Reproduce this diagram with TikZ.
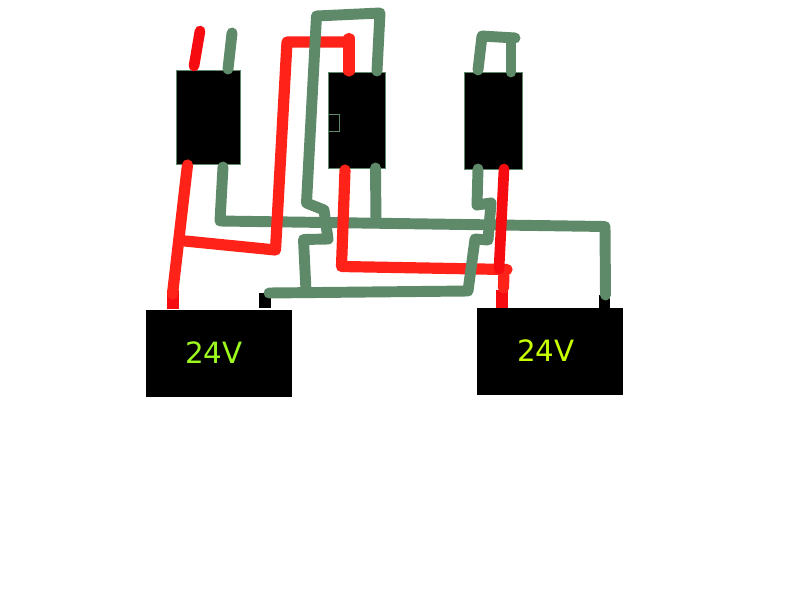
\documentclass[tikz,border=0pt]{standalone}
\usepackage{fontspec}
\setmainfont{DejaVu Sans}
\definecolor{wgreen}{HTML}{5F8A69}
\definecolor{wred}{HTML}{FF2218}
\definecolor{pred}{HTML}{F60C10}
\definecolor{limeA}{HTML}{9CFA1E}
\definecolor{limeB}{HTML}{C8FF00}
\tikzset{
  x=0.75pt,y=-0.75pt,
  relay/.style={draw=wgreen,line width=0.6pt,fill=black,inner sep=0pt,outer sep=0pt},
  battery/.style={fill=black,inner sep=0pt,outer sep=0pt,minimum width=109.5pt,minimum height=65.25pt},
  volts/.style={inner sep=0pt,outer sep=0pt,font=\fontsize{22}{26}\selectfont},
  terminal/.style={inner sep=0pt,outer sep=0pt,minimum width=9pt},
  gwire/.style={draw=wgreen,line width=8.2pt,line cap=round,line join=round},
  rwire/.style={draw=wred,line width=8.4pt,line cap=round,line join=round},
  pwire/.style={draw=pred,line width=8pt,line cap=round,line join=round},
}
\begin{document}
\begin{tikzpicture}
\useasboundingbox (0,0) rectangle (800,600);
\fill[white] (0,0) rectangle (800,600);
% relays
\node[relay,minimum width=47.7pt,minimum height=70.5pt] (relayA) at (208.5,117) {};
\node[relay,minimum width=42.6pt,minimum height=72pt] (relayB) at (357,120) {};
\node[relay,minimum width=43.6pt,minimum height=72.9pt] (relayC) at (493.4,121) {};
\node[draw=wgreen,line width=0.5pt,fill=black,inner sep=0pt,minimum width=8pt,minimum height=12.7pt] (tab) at (334,123) {};
% batteries
\node[battery] (batA) at (219,353.5) {};
\node[battery] (batB) at (550,351.5) {};
\node[volts,text=limeA] (voltA) at (214,353) {24V};
\node[volts,text=limeB] (voltB) at (546,351) {24V};
% terminals
\node[terminal,fill=pred,minimum height=14.25pt] (posA) at (173,299.5) {};
\node[terminal,fill=black,minimum height=11.25pt] (negA) at (265,300.5) {};
\node[terminal,fill=pred,minimum height=13.5pt] (posB) at (502.3,299) {};
\node[terminal,fill=black,minimum height=9.75pt,minimum width=8.25pt] (negB) at (604.5,301.5) {};
% green wires
\draw[gwire] (232,33) -- (228,69);
\draw[gwire] (223,167) -- (220,221) -- (605,226.5) -- (605.5,295);
\draw[gwire] (375.5,168) -- (376,221);
\draw[gwire] (478,70) -- (482,36) -- (515,38);
\draw[gwire] (511,72) -- (511,38);
% red wires under the green top loop
\draw[rwire] (349,71) -- (349,38.5);
\draw[rwire] (349,42) -- (287,42) -- (275.5,250) -- (185,241);
% green upper loop
\draw[gwire] (377,71) -- (380,13) -- (316.5,16) -- (306.5,203) -- (324,210) -- (328,239) -- (303.5,239.5) -- (306,291);
% red wires
\draw[rwire] (187.5,165) -- (172.5,294);
\draw[rwire] (345,170) -- (341.5,266.5) -- (507,269.5);
\draw[rwire] (504,270) -- (503.5,288);
\draw[pwire] (504,169) -- (499,269);
\draw[pwire] (200,31) -- (194,66);
% green lower wire
\draw[gwire] (478,169) -- (477,205) -- (491,203) -- (488,240) -- (475,239) -- (468,291) -- (269,293);
\end{tikzpicture}
\end{document}
